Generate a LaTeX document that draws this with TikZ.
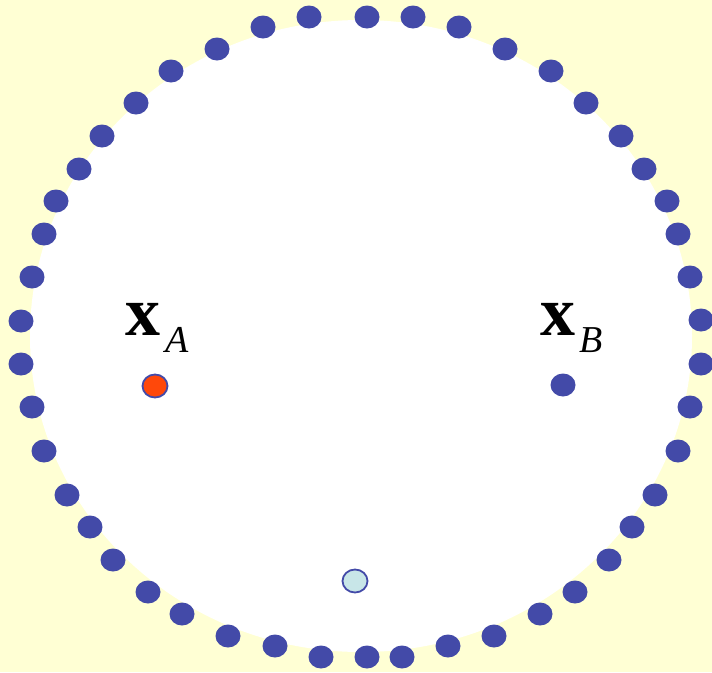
\documentclass[tikz,border=0pt]{standalone}
\usepackage{fontspec}
\setmainfont{Liberation Serif}
\newfontfamily\xfont{Liberation Serif Bold}
\usetikzlibrary{shapes.geometric}
\definecolor{bgyellow}{RGB}{255,255,212}
\definecolor{dotblue}{RGB}{67,74,168}
\definecolor{dotred}{RGB}{255,72,10}
\definecolor{dotcyan}{RGB}{200,230,232}
\tikzset{
  dot/.style={ellipse, minimum width=25pt, minimum height=23pt, inner sep=0pt, fill=dotblue},
  marked/.style={ellipse, minimum width=25pt, minimum height=23pt, inner sep=0pt, draw=dotblue, line width=1.8pt},
  bigx/.style={inner sep=0pt, anchor=base west, font=\xfont\fontsize{70}{70}\selectfont},
  subl/.style={inner sep=0pt, anchor=base west, font=\fontsize{38}{38}\selectfont\itshape}
}
\begin{document}
\begin{tikzpicture}[x=1pt,y=-1pt]
\fill[bgyellow] (0,0) rectangle (712,672);
\useasboundingbox (0,0) rectangle (712,672);
\fill[white] (361,336) ellipse [x radius=331pt, y radius=316pt];
\foreach \px/\py [count=\i] in {263/27,309/17,367/17,413/17,459/27,505/49,551/71,586/103,621/136,644/169,667/201,678/234,690/277,701/320,701/364,690/407,678/451,655/495,632/527,609/560,575/592,540/614,494/636,448/646,402/657,367/657,321/657,275/646,228/636,182/614,148/592,113/560,90/527,67/495,44/451,32/407,21/364,21/321,32/277,44/234,56/201,79/169,102/136,136/103,171/71,217/49}
  \node[dot] (d\i) at (\px,\py) {};
\node[marked, fill=dotred] (pa) at (155,386) {};
\node[dot] (pb) at (563,385) {};
\node[marked, fill=dotcyan] (pc) at (355,581) {};
\node[bigx] (xa) at (125,335) {x};
\node[subl] (sa) at (165,352) {A};
\node[bigx] (xb) at (540,335) {x};
\node[subl] (sb) at (579,352) {B};
\end{tikzpicture}
\end{document}
